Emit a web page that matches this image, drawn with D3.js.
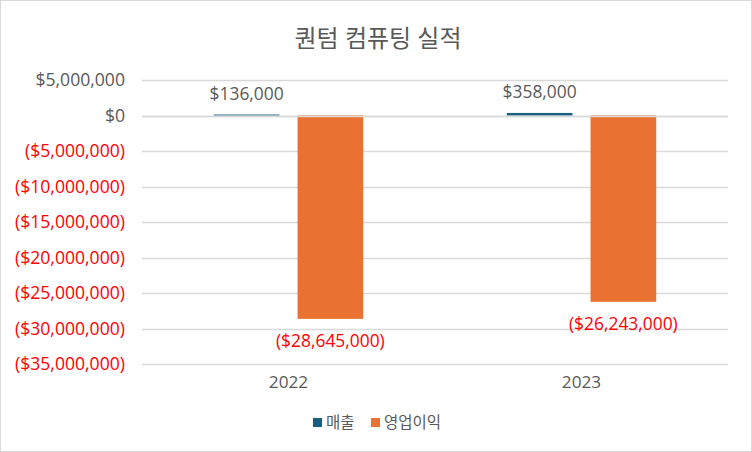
<!DOCTYPE html>
<html><head><meta charset="utf-8">
<script src="https://cdn.jsdelivr.net/npm/d3@7"></script>
<style>body{margin:0;background:#fff}svg{display:block}</style>
</head><body>
<script>
const categories = ["2022", "2023"];
const seriesNames = ["매출", "영업이익"];
const sales = [136000, 358000];
const operatingIncome = [-28645000, -26243000];
const yTicks = [5000000, 0, -5000000, -10000000, -15000000, -20000000, -25000000, -30000000, -35000000];
const colors = ["#156082", "#E97132"];
const title = "퀀텀 컴퓨팅 실적";

(function () {
const W = 752, H = 452;
const font = "'Open Sans','Noto Sans CJK KR',sans-serif";
const svg = d3.select("body").append("svg").attr("width", W).attr("height", H);
svg.append("rect").attr("x",0.5).attr("y",0.5).attr("width",W-1).attr("height",H-1)
  .attr("fill","#fff").attr("stroke","#d9d9d9");

const pLeft = 142, pRight = 728, pTop = 80, pBottom = 364;
const y = d3.scaleLinear().domain([-35000000, 5000000]).range([pBottom, pTop]);
const x = d3.scaleBand().domain(categories).range([pLeft, pRight]).paddingInner(0.49).paddingOuter(0.245);
const xs = d3.scaleBand().domain(seriesNames).range([0, x.bandwidth()]).paddingInner(0.216);

const fmt = v => {
  const s = "$" + d3.format(",")(Math.abs(v));
  return v < 0 ? "(" + s + ")" : s;
};

// gridlines
svg.append("g").selectAll("line").data(yTicks).join("line")
  .attr("x1", pLeft).attr("x2", pRight)
  .attr("y1", d => Math.round(y(d)) + 0.5).attr("y2", d => Math.round(y(d)) + 0.5)
  .attr("stroke", "#d9d9d9").attr("stroke-width", 1.5);

// y axis
const yAxis = d3.axisLeft(y).tickValues(yTicks).tickSize(0).tickPadding(0).tickFormat(fmt);
const gy = svg.append("g").attr("transform", `translate(125,0)`).call(yAxis);
gy.select(".domain").remove();
gy.selectAll("text").attr("font-family", font).attr("font-size", 17.6)
  .attr("fill", d => d < 0 ? "#FF0000" : "#595959");

// x axis
const xAxis = d3.axisBottom(x).tickSize(0).tickPadding(0);
const gx = svg.append("g").attr("transform", `translate(0,${pBottom + 12})`).call(xAxis);
gx.select(".domain").remove();
gx.selectAll("text").attr("font-family", font).attr("font-size", 17.2).attr("fill", "#595959");

// bars
const data = categories.map((c, i) => ({ cat: c, vals: [sales[i], operatingIncome[i]] }));
const groups = svg.append("g").selectAll("g").data(data).join("g")
  .attr("transform", d => `translate(${x(d.cat)},0)`);
groups.selectAll("rect").data(d => d.vals.map((v, j) => ({ v, s: seriesNames[j], j }))).join("rect")
  .attr("x", d => xs(d.s)).attr("width", xs.bandwidth())
  .attr("y", d => Math.min(y(d.v), y(0)))
  .attr("height", d => Math.abs(y(d.v) - y(0)))
  .attr("fill", d => colors[d.j]);

// zero line over the bars
svg.append("line").attr("x1", pLeft).attr("x2", pRight)
  .attr("y1", Math.round(y(0)) + 0.5).attr("y2", Math.round(y(0)) + 0.5)
  .attr("stroke", "#d9d9d9").attr("stroke-width", 1.5);

// data labels
groups.selectAll("text").data(d => d.vals.map((v, j) => ({ v, s: seriesNames[j], j }))).join("text")
  .attr("x", d => xs(d.s) + xs.bandwidth() / 2)
  .attr("y", d => d.v >= 0 ? y(d.v) - 15 : y(d.v) + 28)
  .attr("text-anchor", "middle")
  .attr("font-family", font).attr("font-size", 17.4)
  .attr("fill", d => d.v < 0 ? "#FF0000" : "#595959")
  .text(d => fmt(d.v));

// title
svg.append("text").attr("x", W / 2 + 2).attr("y", 47).attr("text-anchor", "middle")
  .attr("font-family", font).attr("font-size", 24).attr("fill", "#595959").text(title);

// legend
const leg = svg.append("g").attr("transform", "translate(313,0)");
const legX = [0, 58];
seriesNames.forEach((n, i) => {
  leg.append("rect").attr("x", legX[i]).attr("y", 418).attr("width", 9).attr("height", 9).attr("fill", colors[i]);
  leg.append("text").attr("x", legX[i] + 13).attr("y", 428).attr("font-family", font)
    .attr("font-size", 15.5).attr("fill", "#595959").text(n);
});
})();
</script>
</body></html>
